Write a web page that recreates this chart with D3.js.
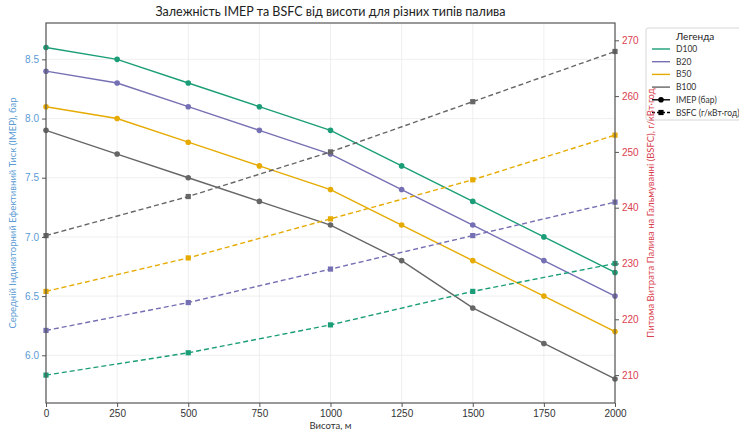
<!DOCTYPE html>
<html>
<head>
<meta charset="utf-8">
<script src="https://cdn.jsdelivr.net/npm/d3@7"></script>
<style>
  body { margin: 0; background: #fff; }
  svg { font-family: Lato, "Noto Sans", sans-serif; }
</style>
</head>
<body>
<div id="chart"></div>
<script>
// data
const altitude = [0, 250, 500, 750, 1000, 1250, 1500, 1750, 2000];
const bsfcAltitude = [0, 500, 1000, 1500, 2000];
const fuels = ["D100", "B20", "B50", "B100"];
const fuelColors = ["#1b9e77", "#7570b3", "#e6ab02", "#666666"];

const imepD100 = [8.6, 8.5, 8.3, 8.1, 7.9, 7.6, 7.3, 7.0, 6.7];
const imepB20  = [8.4, 8.3, 8.1, 7.9, 7.7, 7.4, 7.1, 6.8, 6.5];
const imepB50  = [8.1, 8.0, 7.8, 7.6, 7.4, 7.1, 6.8, 6.5, 6.2];
const imepB100 = [7.9, 7.7, 7.5, 7.3, 7.1, 6.8, 6.4, 6.1, 5.8];

const bsfcD100 = [210, 214, 219, 225, 230];
const bsfcB20  = [218, 223, 229, 235, 241];
const bsfcB50  = [225, 231, 238, 245, 253];
const bsfcB100 = [235, 242, 250, 259, 268];

const imepTicks = [6.0, 6.5, 7.0, 7.5, 8.0, 8.5];
const bsfcTicks = [210, 220, 230, 240, 250, 260, 270];
const xTicks = [0, 250, 500, 750, 1000, 1250, 1500, 1750, 2000];

const imepAll = [imepD100, imepB20, imepB50, imepB100];
const bsfcAll = [bsfcD100, bsfcB20, bsfcB50, bsfcB100];

const width = 739, height = 432;
const margin = {top: 23, right: 124, bottom: 29, left: 46};
const pw = width - margin.left - margin.right;
const ph = height - margin.top - margin.bottom;

const leftColor = "#5a9bd4";
const rightColor = "#d9414f";

const svg = d3.select("#chart").append("svg")
  .attr("width", width).attr("height", height);

const g = svg.append("g")
  .attr("transform", "translate(" + margin.left + "," + margin.top + ")");

const x = d3.scaleLinear().domain([0, 2000]).range([0, pw]);
const yL = d3.scaleLinear().domain([5.597, 8.807]).range([ph, 0]);
const yR = d3.scaleLinear().domain([205.0, 273.1]).range([ph, 0]);

// grid
g.append("g").selectAll("line").data(xTicks).join("line")
  .attr("x1", d => x(d)).attr("x2", d => x(d))
  .attr("y1", 0).attr("y2", ph)
  .attr("stroke", "#ebebeb").attr("stroke-width", 0.8);
g.append("g").selectAll("line").data(imepTicks).join("line")
  .attr("x1", 0).attr("x2", pw)
  .attr("y1", d => yL(d)).attr("y2", d => yL(d))
  .attr("stroke", "#ebebeb").attr("stroke-width", 0.8);

// IMEP lines (solid, circles)
const lineL = d3.line().x((d, i) => x(altitude[i])).y(d => yL(d));
imepAll.forEach((s, k) => {
  g.append("path").datum(s)
    .attr("d", lineL)
    .attr("fill", "none")
    .attr("stroke", fuelColors[k])
    .attr("stroke-width", 1.4);
  g.append("g").selectAll("circle").data(s).join("circle")
    .attr("cx", (d, i) => x(altitude[i]))
    .attr("cy", d => yL(d))
    .attr("r", 2.8)
    .attr("fill", fuelColors[k]);
});

// BSFC lines (dashed, squares)
const lineR = d3.line().x((d, i) => x(bsfcAltitude[i])).y(d => yR(d));
bsfcAll.forEach((s, k) => {
  g.append("path").datum(s)
    .attr("d", lineR)
    .attr("fill", "none")
    .attr("stroke", fuelColors[k])
    .attr("stroke-width", 1.4)
    .attr("stroke-dasharray", "5,3");
  g.append("g").selectAll("rect").data(s).join("rect")
    .attr("x", (d, i) => x(bsfcAltitude[i]) - 2.6)
    .attr("y", d => yR(d) - 2.6)
    .attr("width", 5.2).attr("height", 5.2)
    .attr("fill", fuelColors[k]);
});

// frame
g.append("rect")
  .attr("width", pw).attr("height", ph)
  .attr("fill", "none").attr("stroke", "#555").attr("stroke-width", 1.2);

// axes
const xAxis = g.append("g")
  .attr("transform", "translate(0," + ph + ")")
  .call(d3.axisBottom(x).tickValues(xTicks).tickFormat(d3.format("d")).tickSize(4).tickPadding(3));
xAxis.select(".domain").remove();
xAxis.selectAll("text").attr("fill", "#333").style("font-size", "10px");
xAxis.selectAll("line").attr("stroke", "#555");

const lAxis = g.append("g")
  .call(d3.axisLeft(yL).tickValues(imepTicks).tickFormat(d3.format(".1f")).tickSize(4).tickPadding(3));
lAxis.select(".domain").remove();
lAxis.selectAll("text").attr("fill", leftColor).style("font-size", "10px");
lAxis.selectAll("line").attr("stroke", "#555");

const rAxis = g.append("g")
  .attr("transform", "translate(" + pw + ",0)")
  .call(d3.axisRight(yR).tickValues(bsfcTicks).tickSize(4).tickPadding(3));
rAxis.select(".domain").remove();
rAxis.selectAll("text").attr("fill", rightColor).style("font-size", "10px");
rAxis.selectAll("line").attr("stroke", "#555");

// legend
const leg = svg.append("g").attr("transform", "translate(646,28)");
leg.append("rect")
  .attr("width", 100).attr("height", 92)
  .attr("fill", "rgba(255,255,255,0.85)").attr("stroke", "#ccc").attr("stroke-width", 0.8).attr("rx", 2);
leg.append("text").attr("x", 30).attr("y", 12)
  .style("font-size", "10px").attr("fill", "#222").text("Легенда");
fuels.forEach((f, k) => {
  const yy = 21 + k * 12.7;
  leg.append("line").attr("x1", 6).attr("x2", 24).attr("y1", yy).attr("y2", yy)
    .attr("stroke", fuelColors[k]).attr("stroke-width", 1.4);
  leg.append("text").attr("x", 30).attr("y", yy + 3)
    .style("font-size", "8.5px").attr("fill", "#333").text(f);
});
const styleLabels = ["IMEP (бар)", "BSFC (г/кВт·год)"];
styleLabels.forEach((t, k) => {
  const yy = 21 + (4 + k) * 12.7;
  leg.append("line").attr("x1", 6).attr("x2", 24).attr("y1", yy).attr("y2", yy)
    .attr("stroke", "#000").attr("stroke-width", 1.4)
    .attr("stroke-dasharray", k === 1 ? "3,2" : null);
  if (k === 0) {
    leg.append("circle").attr("cx", 15).attr("cy", yy).attr("r", 2.8).attr("fill", "#000");
  } else {
    leg.append("rect").attr("x", 12.4).attr("y", yy - 2.6).attr("width", 5.2).attr("height", 5.2).attr("fill", "#000");
  }
  leg.append("text").attr("x", 30).attr("y", yy + 3)
    .style("font-size", "8.5px").attr("fill", "#333").text(t);
});

// labels
svg.append("text")
  .attr("x", margin.left + pw / 2).attr("y", 16)
  .attr("text-anchor", "middle")
  .style("font-size", "12.5px").attr("fill", "#222")
  .text("Залежність IMEP та BSFC від висоти для різних типів палива");

svg.append("text")
  .attr("x", margin.left + pw / 2).attr("y", 429)
  .attr("text-anchor", "middle")
  .style("font-size", "9.5px").attr("fill", "#333")
  .text("Висота, м");

svg.append("text")
  .attr("transform", "translate(16," + (margin.top + ph / 2) + ") rotate(-90)")
  .attr("text-anchor", "middle")
  .style("font-size", "9.5px").attr("fill", leftColor)
  .text("Середній Індикаторний Ефективний Тиск (IMEP), бар");

svg.append("text")
  .attr("transform", "translate(654," + (margin.top + ph / 2) + ") rotate(-90)")
  .attr("text-anchor", "middle")
  .style("font-size", "9.5px").attr("fill", rightColor)
  .text("Питома Витрата Палива на Гальмуванні (BSFC), г/кВт·год");
</script>
</body>
</html>
